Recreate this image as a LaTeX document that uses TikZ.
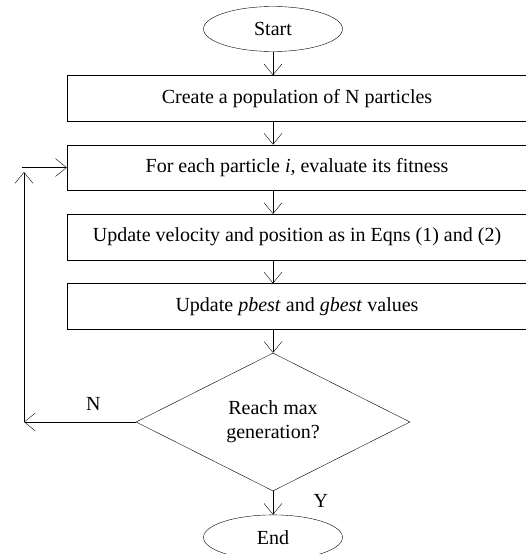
\documentclass[tikz,border=0pt]{standalone}
\usepackage{fontspec}
\setmainfont{Liberation Serif}
\usepackage{tikz}
\usetikzlibrary{shapes, arrows, calc, arrows.meta, positioning}
\tikzset{
    x=1pt, y=-1pt, node distance = 23.5pt, line width=1.7pt,
    font=\fontsize{20}{24}\selectfont,
    terminal/.style = {ellipse, draw, minimum width=139pt, minimum height=45pt, inner sep=0pt}, % start and end
    procbox/.style = {rectangle, draw, minimum width=460pt, minimum height=45.5pt, inner sep=0pt}, % process steps
    decision/.style = {diamond, draw, minimum width=274pt, minimum height=138pt, inner sep=0pt, align=center},
    flow/.style = {-{Straight Barb[length=11pt,width=18pt]}} % open arrow head
}
\begin{document}
\begin{tikzpicture}
    \useasboundingbox (0,0) rectangle (525,554);
    % main column of the flowchart
    \node[terminal] (start) at (273,29) {Start};
    \node[procbox] (create) [below =of start, xshift=24pt] {Create a population of N particles};
    \node[procbox] (fit) [below =of create] {For each particle \textit{i}, evaluate its fitness};
    \node[procbox] (move) [below =of fit] {Update velocity and position as in Eqns (1) and (2)};
    \node[procbox] (best) [below =of move] {Update \textit{pbest} and \textit{gbest} values};
    \node[decision] (reach) [below =of best, xshift=-24pt] {Reach max\\generation?};
    \node[terminal] (end) [below =of reach] {End};
    % loop back corners
    \coordinate (loopbot) at (24,0 |- reach.west);
    \coordinate (looptop) at (24,172);
    \coordinate (loopin) at (22,0 |- fit.west);
    % arrows down the column
    \path[flow] (start) edge (start |- create.north);
    \path[flow] (start |- create.south) edge (start |- fit.north);
    \path[flow] (start |- fit.south) edge (start |- move.north);
    \path[flow] (start |- move.south) edge (start |- best.north);
    \path[flow] (start |- best.south) edge (reach.north);
    \path[flow] (reach.south) edge node[pos=0.4, right=37pt] {Y} (end.north);
    % no: go back to fitness
    \path[flow] (reach.west) edge node[pos=0.38, above=8pt] {N} (loopbot);
    \path[flow] (loopbot) edge (looptop);
    \path[flow] (loopin) edge (fit.west);
\end{tikzpicture}
\end{document}
